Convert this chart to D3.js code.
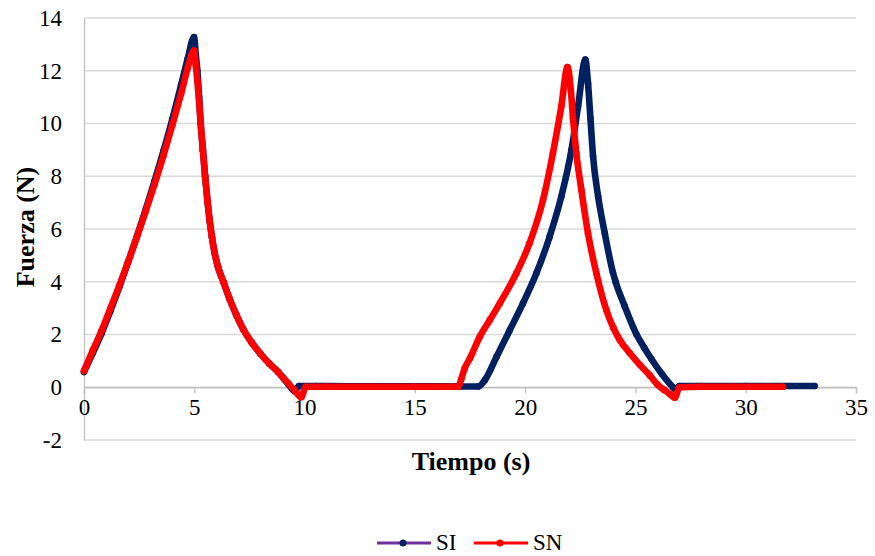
<!DOCTYPE html>
<html>
<head>
<meta charset="utf-8">
<script src="https://cdn.jsdelivr.net/npm/d3@7"></script>
<style>
  html, body { margin: 0; padding: 0; background: #fff; }
  svg { display: block; }
  text { font-family: "Liberation Serif", "Times New Roman", serif; fill: #000; }
</style>
</head>
<body>
<svg id="chart" width="875" height="556"></svg>
<script>
// ---- data ----
const xTicks = [0, 5, 10, 15, 20, 25, 30, 35];
const yTicks = [-2, 0, 2, 4, 6, 8, 10, 12, 14];

const siTime = [0,0.4,0.8,1.2,1.6,2.0,2.4,2.8,3.2,3.6,4.0,4.4,4.7,4.99,
  5.07,5.14,5.22,5.29,5.39,5.49,5.6,5.7,5.8,5.92,6.08,6.32,6.6,6.9,7.22,7.6,8.0,8.4,8.8,9.26,9.55,9.75,
  10.5,12,14,16,17,17.87,
  18.17,18.7,19.3,19.9,20.51,21.11,21.64,22.1,22.4,22.73,
  22.85,22.96,23.08,23.31,23.61,23.98,24.1,24.5,25.05,25.4,25.74,26.2,26.7,26.8,
  27,28,30,32,33.12];
const siForce = [0.58,1.3,2.05,2.9,3.8,4.75,5.72,6.75,7.82,8.95,10.15,11.45,12.45,13.28,
  12.6,12.0,11.0,10.0,9.0,8.0,7.05,6.3,5.7,5.1,4.55,4.0,3.35,2.75,2.2,1.7,1.27,0.9,0.58,0.12,-0.15,0.05,
  0.05,0.04,0.04,0.04,0.03,0.03,
  0.27,1.15,2.16,3.18,4.32,5.71,7.23,9.0,10.65,12.42,
  11.53,10.2,8.75,7.23,5.84,4.35,4.0,3.1,2.0,1.5,1.05,0.5,0.0,-0.08,
  0.05,0.05,0.05,0.05,0.05];

const snTime = [0,0.4,0.8,1.2,1.6,2.0,2.4,2.8,3.2,3.6,4.0,4.4,4.7,4.99,
  5.07,5.14,5.22,5.29,5.39,5.49,5.6,5.7,5.8,5.92,6.08,6.32,6.6,6.9,7.22,7.6,8.0,8.4,8.8,9.26,9.55,9.85,10.05,
  11,13,15,16.5,16.96,
  17.1,17.25,17.5,17.94,18.4,18.85,19.6,20.2,20.81,21.26,21.64,21.92,
  22.07,22.17,22.32,22.55,22.85,23.23,23.68,24.0,24.29,24.74,25.2,25.65,26.0,26.3,26.55,26.78,27.0,
  28,29.5,31,31.69];
const snForce = [0.62,1.4,2.15,3.0,3.85,4.75,5.7,6.68,7.7,8.78,9.93,11.12,12.1,12.77,
  12.2,11.6,10.8,10.0,9.0,8.0,7.05,6.3,5.7,5.1,4.55,4.0,3.35,2.75,2.2,1.7,1.27,0.9,0.58,0.15,-0.12,-0.38,0.02,
  0.02,0.02,0.02,0.02,0.02,
  0.3,0.7,1.1,1.91,2.55,3.18,4.32,5.46,7.1,8.88,10.65,12.14,
  11.28,10.2,8.88,7.48,5.84,4.32,2.93,2.25,1.79,1.3,0.85,0.45,0.1,-0.1,-0.25,-0.4,0.0,
  0.02,0.02,0.02,0.02];

const seriesNames = ["SI", "SN"];
const xTitle = "Tiempo (s)";
const yTitle = "Fuerza (N)";

// ---- layout ----
const svg = d3.select("#chart");
const x = d3.scaleLinear().domain([0, 35]).range([84, 856]);
const y = d3.scaleLinear().domain([-2, 14]).range([440, 18]);

const gridColor = "#d9d9d9";
const axisColor = "#bfbfbf";
const fmt = d => String(d);

// horizontal gridlines
svg.append("g").selectAll("line").data(yTicks).join("line")
  .attr("x1", x(0)).attr("x2", x(35))
  .attr("y1", d => y(d)).attr("y2", d => y(d))
  .attr("stroke", gridColor).attr("stroke-width", 1.3);

// y axis
const yAxis = svg.append("g").attr("transform", `translate(${x(0)},0)`)
  .call(d3.axisLeft(y).tickValues(yTicks).tickSize(0).tickPadding(22).tickFormat(fmt));
yAxis.select(".domain").attr("stroke", axisColor).attr("stroke-width", 1.3);
yAxis.selectAll("text").style("font-size", "23px").style("font-family", "Liberation Serif");

// x axis at y = 0
const xAxis = svg.append("g").attr("transform", `translate(0,${y(0)})`)
  .call(d3.axisBottom(x).tickValues(xTicks).tickSize(6).tickPadding(5).tickFormat(fmt));
xAxis.select(".domain").attr("stroke", axisColor).attr("stroke-width", 1.3);
xAxis.selectAll(".tick line").attr("stroke", axisColor).attr("stroke-width", 1.3);
xAxis.selectAll("text").style("font-size", "23px").style("font-family", "Liberation Serif");

// titles
svg.append("text").attr("x", 471).attr("y", 470).attr("text-anchor", "middle")
  .style("font-size", "26px").style("font-weight", "bold").text(xTitle);
svg.append("text").attr("transform", "translate(34,227) rotate(-90)").attr("text-anchor", "middle")
  .style("font-size", "26px").style("font-weight", "bold").text(yTitle);

// series
const series = [
  { name: seriesNames[0], t: siTime, f: siForce, line: "#7030a0", marker: "#002060" },
  { name: seriesNames[1], t: snTime, f: snForce, line: "#ff0000", marker: "#ff0000" }
];
const lineGen = d3.line().x(d => x(d[0])).y(d => y(d[1])).curve(d3.curveMonotoneX);

series.forEach(s => {
  const pts = s.t.map((t, i) => [t, s.f[i]]);
  const g = svg.append("g");
  // dense marker trail (the recorded samples overlap into a solid band)
  g.append("path").datum(pts).attr("d", lineGen)
    .attr("fill", "none").attr("stroke", s.marker).attr("stroke-width", 6.6)
    .attr("stroke-linejoin", "round").attr("stroke-linecap", "round");
  g.selectAll("circle").data(pts).join("circle")
    .attr("cx", d => x(d[0])).attr("cy", d => y(d[1])).attr("r", 3.3)
    .attr("fill", s.marker);
});

// legend
const legend = svg.append("g");
const legendItems = [
  { name: seriesNames[0], x0: 377, line: "#7030a0", marker: "#002060" },
  { name: seriesNames[1], x0: 474, line: "#ff0000", marker: "#ff0000" }
];
legendItems.forEach(it => {
  legend.append("line").attr("x1", it.x0).attr("x2", it.x0 + 54)
    .attr("y1", 543).attr("y2", 543).attr("stroke", it.line).attr("stroke-width", 3);
  legend.append("circle").attr("cx", it.x0 + 26).attr("cy", 543).attr("r", 3.5).attr("fill", it.marker);
  legend.append("text").attr("x", it.x0 + 59).attr("y", 550).style("font-size", "23px").text(it.name);
});
</script>
</body>
</html>
